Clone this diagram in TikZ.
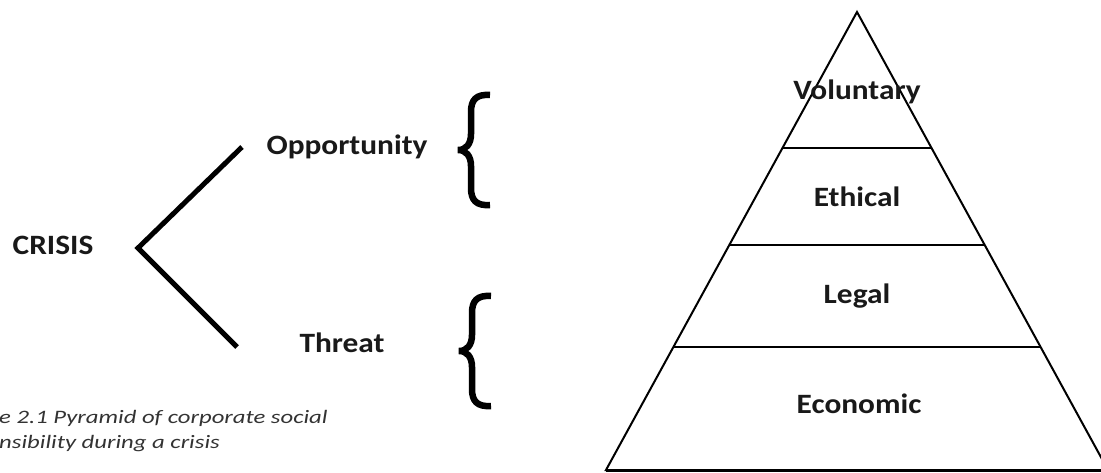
\documentclass[tikz,border=0pt]{standalone}
\usepackage{fontspec}
\setmainfont{Carlito}[FakeStretch=1.12]
\newfontfamily\capfont{Carlito}[FakeStretch=1.3]
\usetikzlibrary{calc}
% curly bracket, tip at #1
\def\curly(#1){\begin{scope}[shift={(#1)}]
	\draw[brace] (32,-55) .. controls (18,-56) and (13,-50) .. (13,-38) -- (13,-16)
		.. controls (13,-6) and (8,0) .. (0,0) .. controls (8,0) and (13,6) .. (13,16)
		-- (13,38) .. controls (13,50) and (18,56) .. (32,55);
	\end{scope}}
\tikzset{
	word/.style={font=\fontsize{28}{30}\selectfont\bfseries, text=black!90, inner sep=0pt},
	caption/.style={font=\capfont\fontsize{19}{21}\selectfont\itshape, text=black!80, inner sep=0pt},
	chevron/.style={line width=5pt, line join=miter},
	brace/.style={line width=6.5pt},
	tier/.style={line width=2pt}
}

\begin{document}
\begin{tikzpicture}[x=1pt, y=-1pt]
			%%%%% START %%%%%
			\useasboundingbox (0, 0) rectangle (1101, 473);
			
			% crisis fork
			\node[word, anchor=base] (crisis) at (53, 255) {CRISIS};
			\coordinate (up) at (242, 147);
			\coordinate (fork) at (138, 248);
			\coordinate (down) at (237, 347);
			\draw[chevron] (up) -- (fork) -- (down);
			
			\node[word, anchor=base] (opp) at (347, 155) {Opportunity};
			\node[word, anchor=base] (threat) at (342, 352) {Threat};
			
			\coordinate (brace1) at (458, 150);
			\coordinate (brace2) at (459, 351);
			\curly(brace1)
			\curly(brace2)
			
			\node[caption, anchor=base west] (cap1) at (-1, 423) {e 2.1 Pyramid of corporate social};
			\node[caption, anchor=base west] (cap2) at (-1, 448) {nsibility during a crisis};
			
			% pyramid
			\coordinate (apex) at (857, 12);
			\coordinate (bl) at (606, 470);
			\coordinate (br) at (1108, 470);
			\draw[tier, line join=miter] (bl) -- (apex) -- (br) -- cycle;
			\draw[line width=3pt] (bl) -- (br);
			\foreach \h in {148, 245, 347}
				\draw[tier] ($(apex)!{(\h-12)/458}!(bl)$) -- ($(apex)!{(\h-12)/458}!(br)$);
			
			\node[word, anchor=base] (vol) at (857, 100) {Voluntary};
			\node[word, anchor=base] (eth) at (857, 207) {Ethical};
			\node[word, anchor=base] (leg) at (857, 304) {Legal};
			\node[word, anchor=base] (eco) at (859, 413) {Economic};
			%%%%% END %%%%%
\end{tikzpicture}
\end{document}
